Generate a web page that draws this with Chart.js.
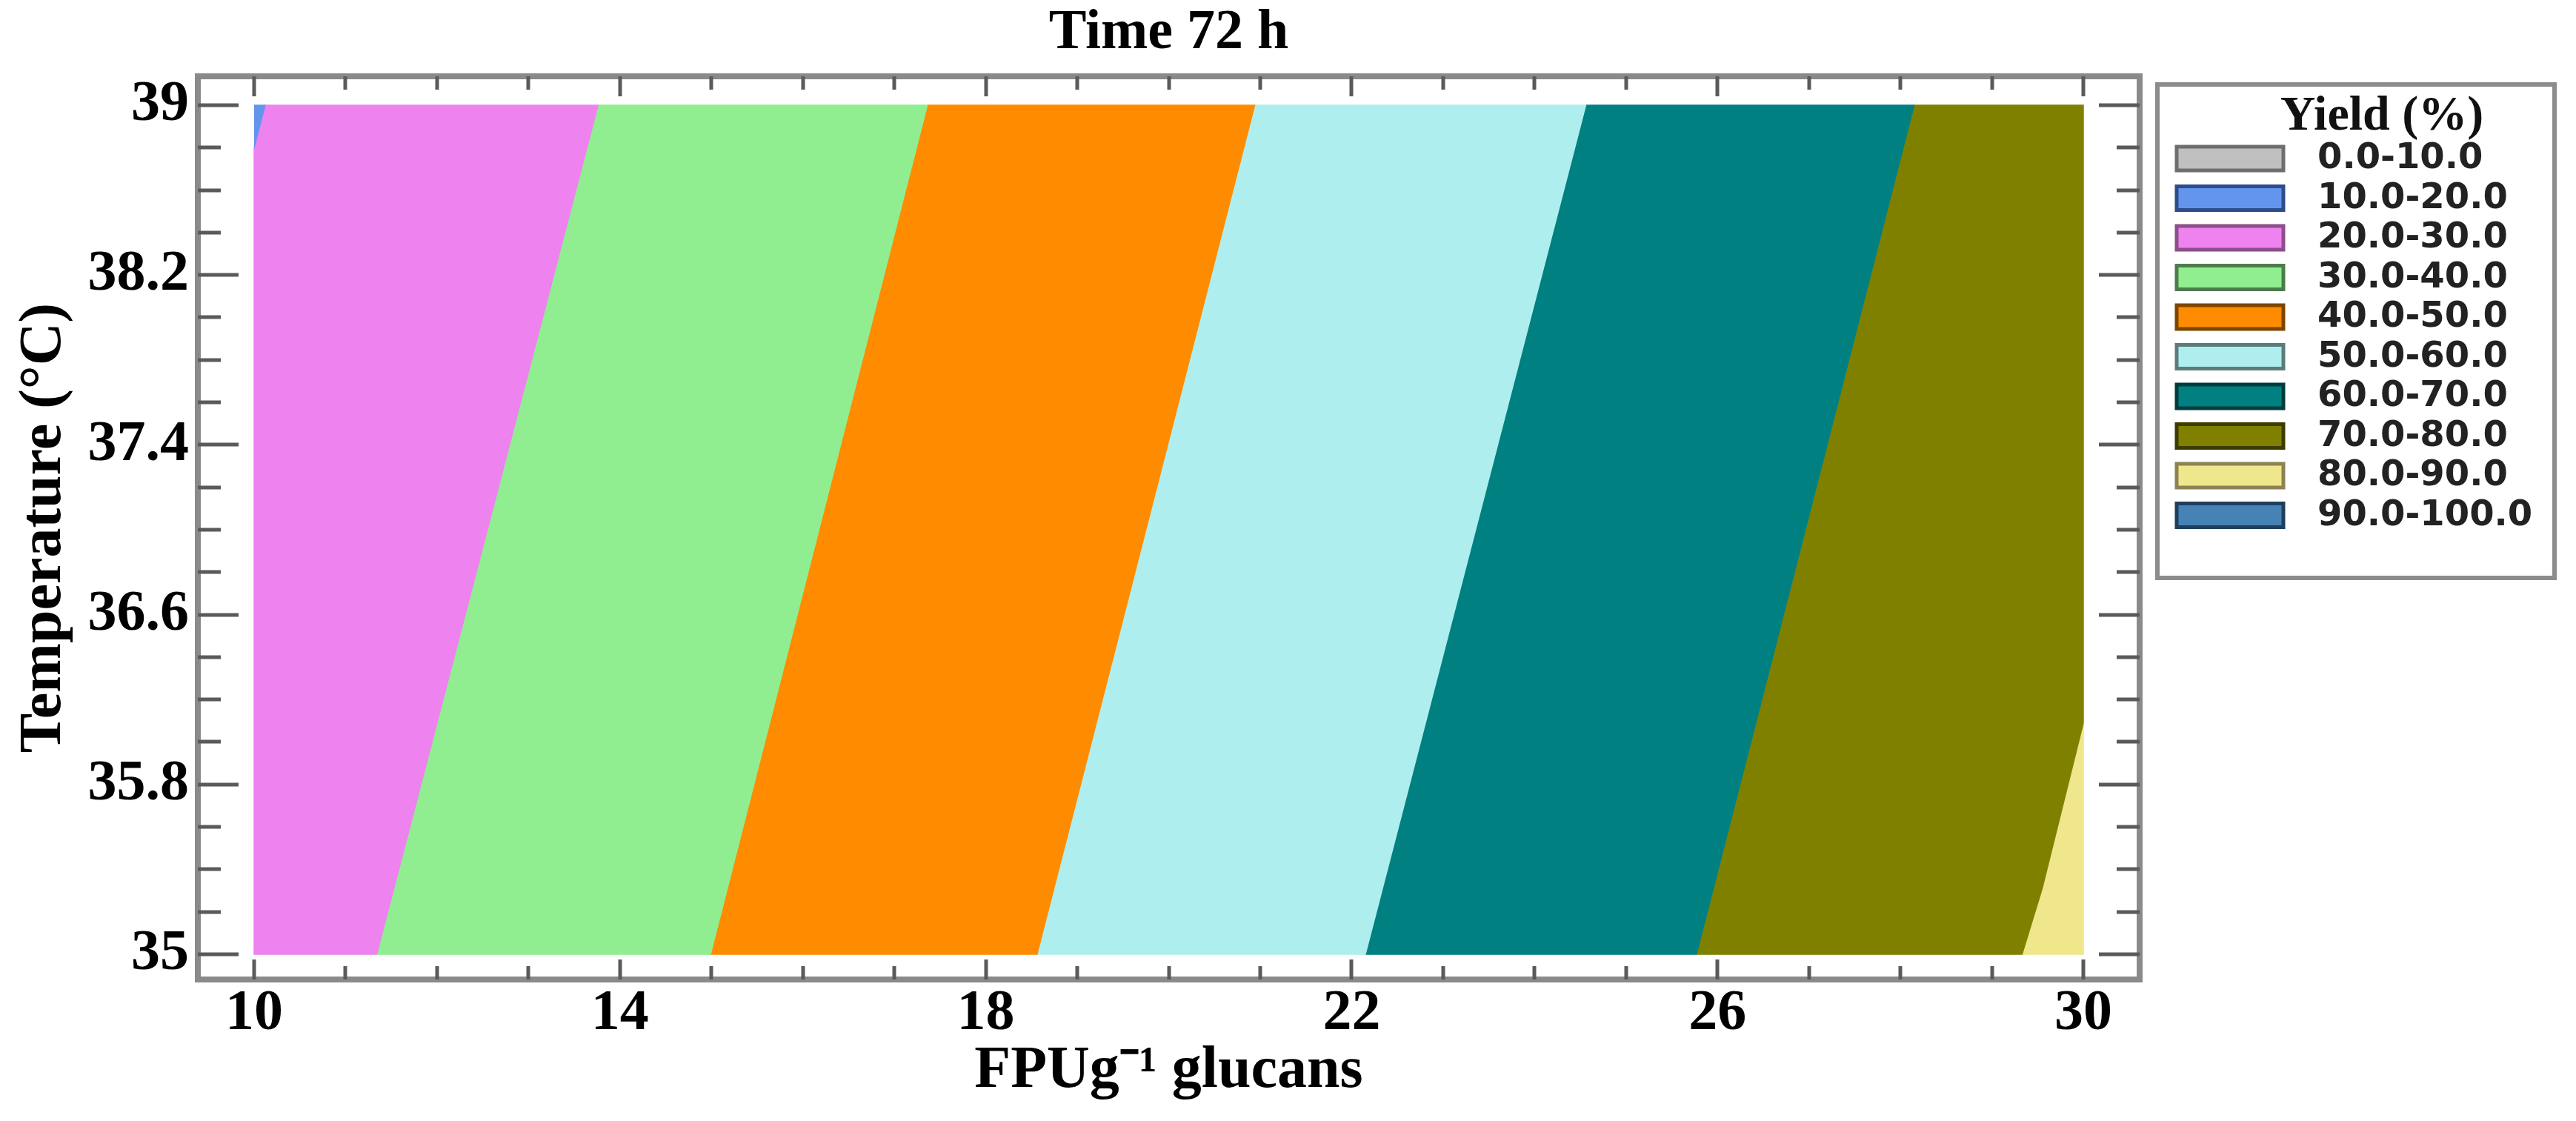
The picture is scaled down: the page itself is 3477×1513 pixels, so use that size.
<!DOCTYPE html>
<html>
<head>
<meta charset="utf-8">
<script src="https://cdn.jsdelivr.net/npm/chart.js@4.4.1/dist/chart.umd.min.js"></script>
<style>
  html, body { margin: 0; padding: 0; background: #ffffff; }
  #c { display: block; }
</style>
</head>
<body>
<canvas id="c" width="3477" height="1513" style="width:3477px;height:1513px"></canvas>
<script>
// ---------------- data ----------------
const chartTitle = 'Time 72 h';
const xTitle = 'FPUg\u207B\u00B9 glucans';
const yTitle = 'Temperature (\u00B0C)';

// axis ticks
const xTicks = [10, 14, 18, 22, 26, 30];
const xTickLabels = ['10', '14', '18', '22', '26', '30'];
const yTicks = [35, 35.8, 36.6, 37.4, 38.2, 39];
const yTickLabels = ['35', '35.8', '36.6', '37.4', '38.2', '39'];
const xMinorTicks = [10, 11, 12, 13, 14, 15, 16, 17, 18, 19, 20, 21, 22, 23, 24, 25, 26, 27, 28, 29, 30];
const yMinorTicks = [35, 35.2, 35.4, 35.6, 35.8, 36, 36.2, 36.4, 36.6, 36.8, 37, 37.2, 37.4, 37.6, 37.8, 38, 38.2, 38.4, 38.6, 38.8, 39];

// legend classes
const legendTitle = 'Yield (%)';
const legendLabels = ['0.0-10.0', '10.0-20.0', '20.0-30.0', '30.0-40.0', '40.0-50.0',
                      '50.0-60.0', '60.0-70.0', '70.0-80.0', '80.0-90.0', '90.0-100.0'];
const legendFill   = ['#C0C0C0', '#6495ED', '#EE82EE', '#90EE90', '#FF8C00',
                      '#AFEEEE', '#008080', '#808000', '#F0E68C', '#4682B4'];
const legendStroke = ['#6e6e6e', '#2c4c8c', '#8c4e8c', '#4c7c4c', '#7c4600',
                      '#5c7c7c', '#003c3c', '#3c3c00', '#8c8252', '#1f3e5c'];

// contour band regions, vertices as [FPU, Temperature]
const band10_20 = [[10, 39], [10.12, 39], [10, 38.8]];
const band20_30 = [[10.12, 39], [13.76, 39], [11.34, 35], [10, 35], [10, 38.8]];
const band30_40 = [[13.76, 39], [17.36, 39], [14.99, 35], [11.34, 35]];
const band40_50 = [[17.36, 39], [20.94, 39], [18.56, 35], [14.99, 35]];
const band50_60 = [[20.94, 39], [24.56, 39], [22.15, 35], [18.56, 35]];
const band60_70 = [[24.56, 39], [28.15, 39], [25.77, 35], [22.15, 35]];
const band70_80 = [[28.15, 39], [30, 39], [30, 36.09], [29.55, 35.31], [29.33, 35], [25.77, 35]];
const band80_90 = [[30, 36.09], [30, 35], [29.33, 35], [29.55, 35.31]];

const bands = [band10_20, band20_30, band30_40, band40_50, band50_60, band60_70, band70_80, band80_90];
const bandClass = [1, 2, 3, 4, 5, 6, 7, 8]; // index into legend classes

// ---------------- styles ----------------
const SERIF = "'Liberation Serif', 'Times New Roman', serif";
const SANS = "'DejaVu Sans', sans-serif";

const datasets = bands.map((pts, i) => ({
  label: legendLabels[bandClass[i]],
  data: pts.map(p => ({ x: p[0], y: p[1] })),
  showLine: true,
  fill: 'shape',
  backgroundColor: legendFill[bandClass[i]],
  borderColor: legendFill[bandClass[i]],
  borderWidth: 1.5,
  pointRadius: 0,
  tension: 0
}));

const framePlugin = {
  id: 'frame',
  afterDraw(chart) {
    const { ctx, chartArea: a, scales: { x, y } } = chart;
    ctx.save();
    ctx.strokeStyle = '#8a8a8a';
    ctx.lineWidth = 8;
    ctx.strokeRect(a.left, a.top, a.right - a.left, a.bottom - a.top);
    ctx.strokeStyle = '#5a5a5a';
    ctx.lineWidth = 5;
    ctx.beginPath();
    xMinorTicks.forEach((v, i) => {
      const px = Math.round(x.getPixelForValue(v));
      const L = (i % 4 === 0) ? 27 : 18;
      ctx.moveTo(px, a.top); ctx.lineTo(px, a.top + L);
      ctx.moveTo(px, a.bottom); ctx.lineTo(px, a.bottom - L);
    });
    yMinorTicks.forEach((v, i) => {
      const py = Math.round(y.getPixelForValue(v));
      const L = (i % 4 === 0) ? 55 : 31;
      ctx.moveTo(a.left, py); ctx.lineTo(a.left + L, py);
      ctx.moveTo(a.right, py); ctx.lineTo(a.right - L, py);
    });
    ctx.stroke();
    ctx.restore();
  }
};

const legendPlugin = {
  id: 'yieldLegend',
  afterDraw(chart) {
    const ctx = chart.ctx;
    const box = { left: 2912, top: 114, right: 3448, bottom: 780 };
    ctx.save();
    ctx.strokeStyle = '#8c8c8c';
    ctx.lineWidth = 6;
    ctx.strokeRect(box.left, box.top, box.right - box.left, box.bottom - box.top);
    ctx.fillStyle = '#111';
    ctx.textBaseline = 'middle';
    ctx.textAlign = 'center';
    ctx.font = "bold 66px " + SERIF;
    ctx.fillText(legendTitle, 3215, 158);
    ctx.textAlign = 'left';
    ctx.font = "bold 48px " + SANS;
    legendLabels.forEach((lab, i) => {
      const cy = 214 + i * 53.5;
      ctx.fillStyle = legendFill[i];
      ctx.fillRect(2938, cy - 16, 144, 32);
      ctx.strokeStyle = legendStroke[i];
      ctx.lineWidth = 5;
      ctx.strokeRect(2938, cy - 16, 144, 32);
      ctx.fillStyle = '#222';
      ctx.fillText(lab, 3128, cy + 1);
    });
    ctx.restore();
  }
};

new Chart(document.getElementById('c').getContext('2d'), {
  type: 'scatter',
  data: { datasets },
  options: {
    responsive: false,
    animation: false,
    events: [],
    layout: { padding: { left: 0, right: 589, top: 0, bottom: 0 } },
    plugins: {
      legend: { display: false },
      tooltip: { enabled: false },
      title: {
        display: true,
        text: chartTitle,
        fullSize: false,
        color: '#000',
        font: { family: SERIF, size: 76, weight: 'bold', lineHeight: 1.2 },
        padding: { top: 0, bottom: 103 - 76 * 1.2 }
      }
    },
    scales: {
      x: {
        type: 'linear',
        position: 'bottom',
        min: 9.3844,
        max: 30.6156,
        afterBuildTicks: s => { s.ticks = xTicks.map(v => ({ value: v })); },
        afterFit: s => { s.height = 191; },
        grid: { display: false, drawTicks: false },
        border: { display: false },
        ticks: {
          autoSkip: false, maxRotation: 0, minRotation: 0, padding: 0,
          color: '#000',
          font: { family: SERIF, size: 78, weight: 'bold', lineHeight: 1.2 },
          callback: (v, i) => xTickLabels[i]
        },
        title: {
          display: true, text: xTitle, color: '#000',
          font: { family: SERIF, size: 80, weight: 'bold', lineHeight: 1.2 },
          padding: { top: 0, bottom: 19 }
        }
      },
      y: {
        type: 'linear',
        position: 'left',
        min: 34.8813,
        max: 39.1361,
        afterBuildTicks: s => { s.ticks = yTicks.map(v => ({ value: v })); },
        afterFit: s => { s.width = 267; },
        grid: { display: false, drawTicks: false },
        border: { display: false },
        ticks: {
          autoSkip: false, padding: 12,
          color: '#000',
          font: { family: SERIF, size: 78, weight: 'bold', lineHeight: 1.2 },
          callback: (v, i) => yTickLabels[i]
        },
        title: {
          display: true, text: yTitle, color: '#000',
          font: { family: SERIF, size: 80, weight: 'bold', lineHeight: 1.2 },
          padding: { top: 12, bottom: 0 }
        }
      }
    }
  },
  plugins: [framePlugin, legendPlugin]
});
</script>
</body>
</html>
